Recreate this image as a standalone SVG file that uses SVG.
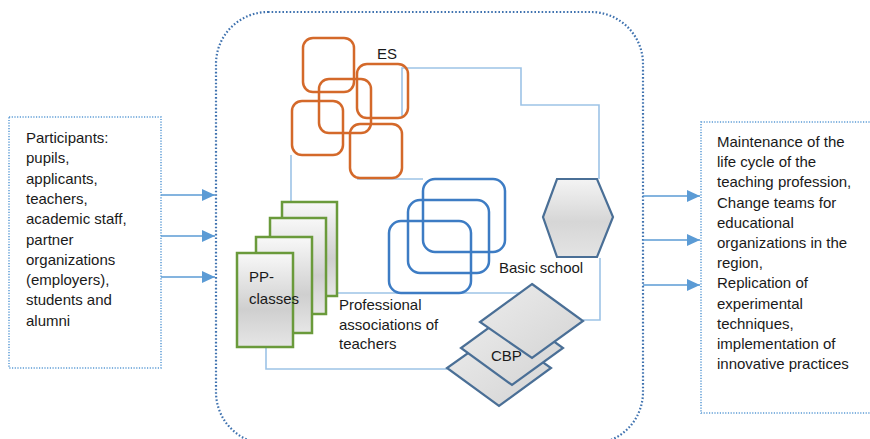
<svg xmlns="http://www.w3.org/2000/svg" width="870" height="439" viewBox="0 0 870 439">
<defs>
<style>
text{font-family:"Liberation Sans",Arial,sans-serif;font-size:15px;fill:#1a1a1a}
.side{fill:#fff;stroke:#5b9bd5;stroke-width:1.5;stroke-dasharray:1.2 1.5}
.cont{fill:none;stroke:#3f72af;stroke-width:2.2;stroke-dasharray:1.6 2}
.arr{stroke:#5b9bd5;stroke-width:1.6;fill:none;marker-end:url(#ah)}
.link{stroke:#9dc3e6;stroke-width:1.6;fill:none}
.es{fill:none;stroke:#d4692a;stroke-width:2.5}
.bs{fill:none;stroke:#3d7cc4;stroke-width:2.5}
.pp{fill:url(#gG);stroke:#6a9a3b;stroke-width:2.5}
.hx{fill:url(#gH);stroke:#4a6f96;stroke-width:2.2}
.cb{fill:url(#gD);stroke:#4a6f96;stroke-width:2.2}
</style>
<marker id="ah" markerWidth="14" markerHeight="12" refX="13" refY="6" orient="auto" markerUnits="userSpaceOnUse">
<path d="M0,0 L13,6 L0,12 Z" fill="#5b9bd5"/>
</marker>
<linearGradient id="gG" x1="0" y1="0" x2="0" y2="1">
<stop offset="0" stop-color="#f8f8f8"/><stop offset="0.6" stop-color="#cfcfcf"/><stop offset="1" stop-color="#e6e6e6"/>
</linearGradient>
<linearGradient id="gH" x1="0" y1="0" x2="0" y2="1">
<stop offset="0" stop-color="#f4f4f4"/><stop offset="0.55" stop-color="#d6d6d6"/><stop offset="1" stop-color="#e4e4e4"/>
</linearGradient>
<linearGradient id="gD" x1="0" y1="0" x2="1" y2="1">
<stop offset="0" stop-color="#ececec"/><stop offset="1" stop-color="#d4d4d4"/>
</linearGradient>
</defs>
<rect width="870" height="439" fill="#fff"/>

<g id="container">
<rect class="cont" x="216" y="12" width="427" height="432" rx="52" ry="52"/>
</g>

<g id="participants">
<rect class="side" x="9" y="117" width="152" height="251"/>
<text x="26" y="143">Participants:</text>
<text x="26" y="163.3">pupils,</text>
<text x="26" y="183.6">applicants,</text>
<text x="26" y="203.9">teachers,</text>
<text x="26" y="224.2">academic staff,</text>
<text x="26" y="244.5">partner</text>
<text x="26" y="264.8">organizations</text>
<text x="26" y="285.1">(employers),</text>
<text x="26" y="305.4">students and</text>
<text x="26" y="325.7">alumni</text>
</g>

<g id="results">
<rect class="side" x="701" y="122" width="175" height="291"/>
<text x="717" y="147">Maintenance of the</text>
<text x="717" y="167.2">life cycle of the</text>
<text x="717" y="187.4">teaching profession,</text>
<text x="717" y="207.6">Change teams for</text>
<text x="717" y="227.8">educational</text>
<text x="717" y="248">organizations in the</text>
<text x="717" y="268.2">region,</text>
<text x="717" y="288.4">Replication of</text>
<text x="717" y="308.6">experimental</text>
<text x="717" y="328.8">techniques,</text>
<text x="717" y="349">implementation of</text>
<text x="717" y="369.2">innovative practices</text>
</g>

<g id="connectors">
<path class="arr" d="M161,195 H215"/>
<path class="arr" d="M161,236 H215"/>
<path class="arr" d="M161,277 H215"/>
<path class="arr" d="M643,196 H700"/>
<path class="arr" d="M643,240 H700"/>
<path class="arr" d="M643,285 H700"/>
<path class="link" d="M402,118 V68 H521 V105 H599 V179"/>
<path class="link" d="M291,155 V202"/>
<path class="link" d="M357,179 H423"/>
<path class="link" d="M600,258 V320 H583"/>
<path class="link" d="M329,293 H520"/>
<path class="link" d="M266,347 V369 H447"/>
</g>

<g id="es">
<rect class="es" x="303" y="38" width="51" height="54" rx="10"/>
<rect class="es" x="357" y="64" width="51" height="54" rx="10"/>
<rect class="es" x="319" y="79" width="52" height="54" rx="10"/>
<rect class="es" x="292" y="101" width="51" height="54" rx="10"/>
<rect class="es" x="350" y="124" width="52" height="54" rx="10"/>
<text x="377" y="58.5">ES</text>
</g>

<g id="basic-school">
<rect class="bs" x="423" y="179" width="82" height="73" rx="12"/>
<rect class="bs" x="408" y="200" width="81" height="73" rx="12"/>
<rect class="bs" x="389" y="221" width="82" height="72" rx="12"/>
<text x="499" y="272.5">Basic school</text>
</g>

<g id="hexagon">
<polygon class="hx" points="557,179 597,179 613,217 597,257 557,257 543,217"/>
</g>

<g id="pp-classes">
<rect class="pp" x="282" y="202" width="55" height="94"/>
<rect class="pp" x="270" y="218" width="56" height="96"/>
<rect class="pp" x="256" y="237" width="56" height="96"/>
<rect class="pp" x="237" y="253" width="56" height="94"/>
<text x="249" y="282">PP-</text>
<text x="249" y="303.5">classes</text>
</g>

<g id="professional-associations">
<text x="339" y="309.5">Professional</text>
<text x="339" y="329.5">associations of</text>
<text x="339" y="349">teachers</text>
</g>

<g id="cbp">
<polygon class="cb" points="499,331 551,368 499,406 447,368"/>
<polygon class="cb" points="512,311 563,348 512,385 461,348"/>
<polygon class="cb" points="532,284 583,321 532,358 480,322"/>
<text x="491" y="360.5">CBP</text>
</g>
</svg>
